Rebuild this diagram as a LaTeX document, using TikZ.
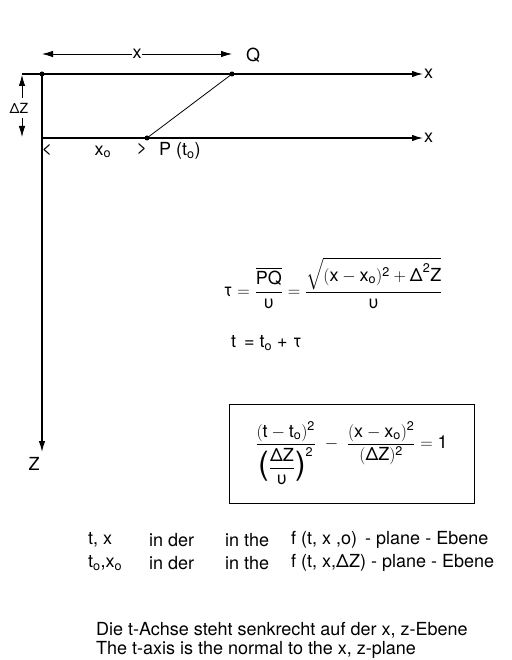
\documentclass[tikz,border=0pt]{standalone}
\usepackage{amsmath}
\usepackage{fontspec}
\setmainfont{TeX Gyre Heros}
\usetikzlibrary{arrows.meta}

\newcommand{\tx}[1]{\text{#1}}
\newcommand{\bigparen}[1]{\text{\fontsize{32}{32}\selectfont\raisebox{-2pt}{#1}}}

\begin{document}
\begin{tikzpicture}[x=1pt, y=-1pt, >={Latex[length=11pt,width=6.5pt]},
    every node/.style={inner sep=1pt, font=\fontsize{18}{22}\selectfont},
    axis/.style={line width=1.2pt},
    dot/.style={circle, fill, inner sep=0pt, minimum size=5pt}]
    \useasboundingbox (0,0) rectangle (511,660);

    \node[dot] (o) at (42,74) {};
    \node[dot] (q) at (232,74) {};
    \node[dot] (p) at (147,138) {};
    \coordinate (l) at (42,138);
    \coordinate (s) at (22,74);
    \coordinate (zend) at (42,452);

    \node[anchor=west] (xtop) at (423,74) {x};
    \node[anchor=west] (xbot) at (423,138) {x};
    \node (zlab) at (34,464) {Z};
    \node (qlab) at (253,55) {Q};

    % axes
    \draw[axis, ->] (s) -- (xtop.west);
    \draw[axis, ->] (l) -- (xbot.west);
    \draw[axis, ->] (o.center) -- (zend);

    % from P to Q
    \draw[thick] (p.center) -- (q.center);

    % distance x
    \coordinate (xa) at (42,54);
    \coordinate (xb) at (232,54);
    \draw[thick, <->] (xa) -- node[fill=white, inner sep=0.5pt] (xlab) {x} (xb);

    % delta z
    \node (dz) at (19,108) {\fontsize{14}{16}\selectfont ΔZ};
    \coordinate (dzt) at (22,75);
    \coordinate (dzb) at (22,137);
    \draw[thick, ->] (22,98) -- (dzt);
    \draw[thick, ->] (22,118) -- (dzb);

    % x_o
    \node (lt) at (47,150) {<};
    \node (xo) at (103,152) {x\textsubscript{o}};
    \node (gt) at (142,149) {>};
    \node[anchor=west] (plab) at (158,151) {P (t\textsubscript{o})};

    % equations
    \node (tau) at (333,283) {$\tx{τ} = \dfrac{\overline{\tx{PQ}}}{\tx{υ}}
        = \dfrac{\sqrt{(\tx{x} - \tx{x}_{\tx{o}})^{\tx{2}} + \tx{Δ}^{\tx{2}}\tx{Z}}}{\tx{υ}}$};
    \node[anchor=west] (teq) at (230,343) {t \,= t\textsubscript{o} + τ};
    \node[draw, line width=1pt, minimum width=245pt, minimum height=99pt] (hyp) at (351.5,453.5)
        {$\dfrac{(\tx{t} - \tx{t}_{\tx{o}})^{\tx{2}}}{\rule{0pt}{26pt}\bigparen{(}\dfrac{\tx{ΔZ}}{\tx{υ}}\bigparen{)}^{\tx{2}}}
        \;-\; \dfrac{(\tx{x} - \tx{x}_{\tx{o}})^{\tx{2}}}{(\tx{ΔZ})^{\tx{2}}} = \tx{1}$};

    % planes
    \node[anchor=west] (r1a) at (87,540) {t, x};
    \node[anchor=west] (r1b) at (148,540) {in der};
    \node[anchor=west] (r1c) at (224,540) {in the};
    \node[anchor=west] (r1d) at (290,540) {f (t, x ,o) \,- plane - Ebene};
    \node[anchor=west] (r2a) at (87,563) {t\textsubscript{o},x\textsubscript{o}};
    \node[anchor=west] (r2b) at (148,563) {in der};
    \node[anchor=west] (r2c) at (224,563) {in the};
    \node[anchor=west] (r2d) at (290,563) {f (t, x,ΔZ) - plane - Ebene};

    % t axis
    \node[anchor=west] (die) at (95,630) {Die t-Achse steht senkrecht auf der x, z-Ebene};
    \node[anchor=west] (the) at (95,650) {The t-axis is the normal to the x, z-plane};
\end{tikzpicture}
\end{document}
